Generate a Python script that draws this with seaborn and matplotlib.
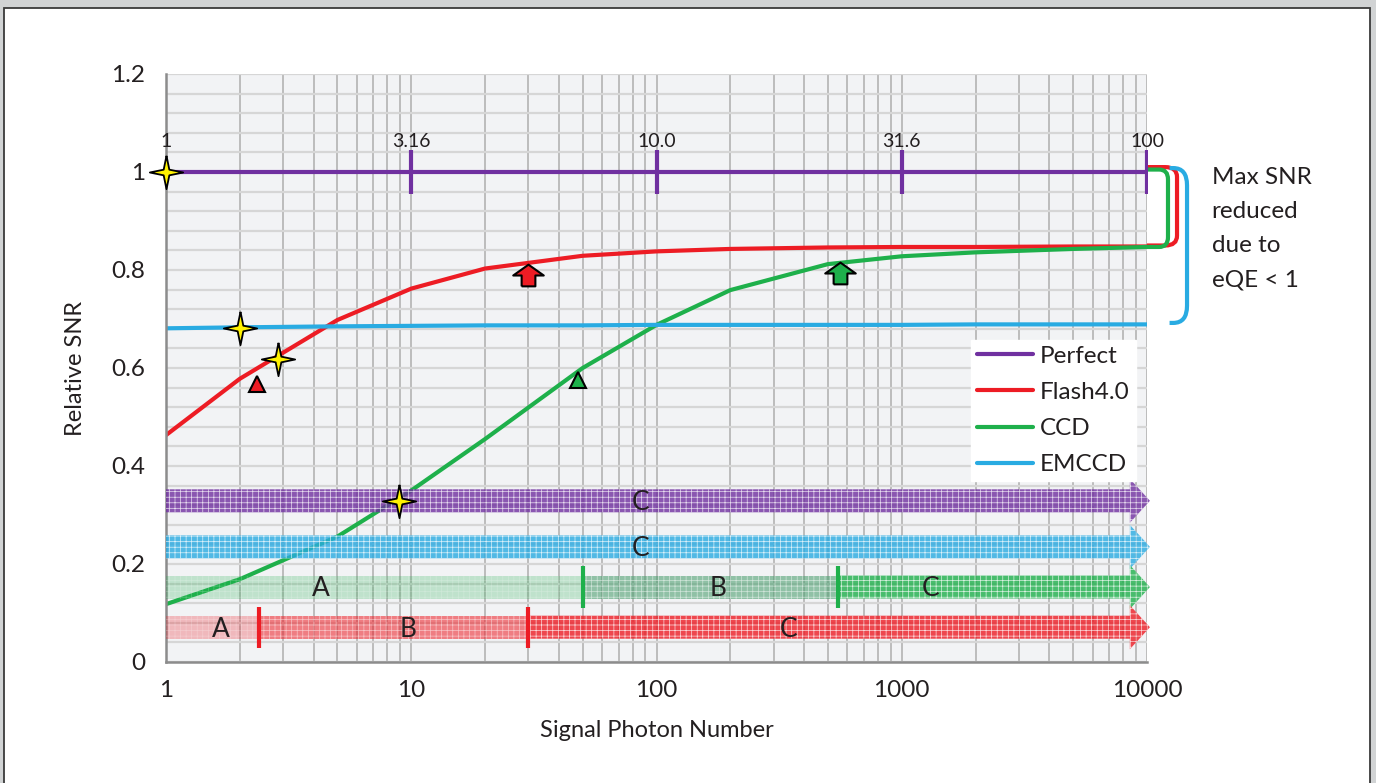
import matplotlib
matplotlib.use("Agg")
import matplotlib.pyplot as plt
import numpy as np
import seaborn as sns
from matplotlib.path import Path
from matplotlib.patches import PathPatch, Rectangle
from matplotlib.transforms import blended_transform_factory
from matplotlib.ticker import FixedLocator, NullFormatter

# ---- data ----
photons = [1, 2, 5, 10, 20, 50, 100, 200, 500, 1000, 2000, 5000, 10000]
perfect = [1.0] * len(photons)
flash = [0.463, 0.578, 0.698, 0.762, 0.803, 0.829, 0.838, 0.843, 0.846, 0.847, 0.847, 0.848, 0.848]
ccd = [0.118, 0.169, 0.256, 0.350, 0.455, 0.600, 0.688, 0.759, 0.812, 0.828, 0.836, 0.843, 0.847]
emccd = [0.681, 0.683, 0.685, 0.686, 0.687, 0.687, 0.688, 0.688, 0.688, 0.688, 0.689, 0.689, 0.689]

snr_tick_x = [10, 100, 1000, 10000]
snr_label_x = [1, 10, 100, 1000, 10000]
snr_labels = ["1", "3.16", "10.0", "31.6", "100"]

star_x = [1, 2, 2.85, 8.9]
star_y = [1.0, 0.682, 0.618, 0.329]
tri_x = [2.36, 48]
tri_y = [0.567, 0.575]
up_x = [30, 560]
up_y = [0.79, 0.793]

# zone arrows: band level, zone boundaries, zone letters
zone_levels = [0.329, 0.235, 0.153, 0.071]
zone_bounds = [[], [], [50, 550], [2.4, 30]]
zone_letters = [["C"], ["C"], ["A", "B", "C"], ["A", "B", "C"]]
zone_letter_x = [[86], [86], [4.3, 178, 1316], [1.68, 9.7, 347]]

purple = "#7030a0"
red = "#ed1c24"
green = "#1eb04b"
cyan = "#29abe2"
txt = "#231f20"

sns.set_style("white")
plt.rcParams['font.family'] = ['Lato', 'DejaVu Sans']
plt.rcParams['hatch.linewidth'] = 0.5

fig = plt.figure(figsize=(13.76, 7.83), dpi=100)
fig.patch.set_facecolor("#d1d3d4")
fig.patches.append(Rectangle((4 / 1376, -0.01), 1366 / 1376, (783 - 8) / 783 + 0.01,
                             transform=fig.transFigure, facecolor="white",
                             edgecolor="#3a3a3a", lw=1.3, zorder=-5))

ax = fig.add_axes([166 / 1376, 121 / 783, 981 / 1376, 588 / 783])
ax.set_facecolor("#f2f3f5")

# curves
sns.lineplot(x=photons, y=perfect, ax=ax, color=purple, lw=3, label="Perfect", zorder=2)
sns.lineplot(x=photons, y=flash, ax=ax, color=red, lw=3, label="Flash4.0", zorder=2)
sns.lineplot(x=photons, y=ccd, ax=ax, color=green, lw=3, label="CCD", zorder=2)
sns.lineplot(x=photons, y=emccd, ax=ax, color=cyan, lw=3, label="EMCCD", zorder=2)

ax.set_xscale("log")
ax.set_xlim(1, 10000)
ax.set_ylim(0, 1.2)

# sqrt(N) ticks on the perfect line
ax.plot(snr_tick_x, [1.0] * len(snr_tick_x), ls="none", marker="|", ms=32, mew=3,
        color=purple, zorder=3, label="_nolegend_")
for x, s in zip(snr_label_x, snr_labels):
    ax.text(x, 1.062, s, ha="center", va="center", fontsize=14, color=txt, zorder=6)

# zone arrows
head_base = 10 ** 3.93
tip = 10 ** 4.012
half, head_half = 0.0235, 0.045
for i, (lev, col) in enumerate(zip(zone_levels, [purple, cyan, green, red])):
    edges = [1] + zone_bounds[i] + [None]
    nseg = len(zone_letters[i])
    if nseg == 1:
        styles = [(col, 0.8)]
    elif col == green:
        styles = [(green, 0.24), ("#4a9e6e", 0.58), (green, 0.8)]
    else:
        styles = [(red, 0.27), (red, 0.55), (red, 0.8)]
    for k in range(nseg):
        x0 = edges[k]
        fc, al = styles[k]
        if k == nseg - 1:
            xs = [x0, head_base, head_base, tip, head_base, head_base, x0]
            ys = [lev - half, lev - half, lev - head_half, lev, lev + head_half, lev + half, lev + half]
        else:
            x1 = edges[k + 1]
            xs = [x0, x1, x1, x0]
            ys = [lev - half, lev - half, lev + half, lev + half]
        ax.fill(xs, ys, facecolor=fc, alpha=al, edgecolor=(1, 1, 1, 0.22), hatch="+++",
                lw=0, zorder=3, clip_on=False)
        ax.text(zone_letter_x[i][k], lev - 0.004, zone_letters[i][k], ha="center", va="center",
                fontsize=19, color=txt, zorder=4)
    for b in zone_bounds[i]:
        ax.plot([b, b], [lev - 0.042, lev + 0.042], color=col, lw=3, zorder=4,
                solid_capstyle="butt", label="_nolegend_")

# markers
star = Path([(0, 1), (0.17, 0.17), (1, 0), (0.17, -0.17), (0, -1), (-0.17, -0.17),
             (-1, 0), (-0.17, 0.17), (0, 1)])
ax.plot(star_x, star_y, ls="none", marker=star, ms=24, mfc="#fff200", mec="black",
        mew=1.3, zorder=6, clip_on=False, label="_nolegend_")
ax.plot(tri_x[:1], tri_y[:1], ls="none", marker="^", ms=12, mfc=red, mec="black",
        mew=1.5, zorder=6, label="_nolegend_")
ax.plot(tri_x[1:], tri_y[1:], ls="none", marker="^", ms=12, mfc=green, mec="black",
        mew=1.5, zorder=6, label="_nolegend_")
up = Path([(-0.45, -0.71), (0.45, -0.71), (0.45, 0), (1, 0), (0, 0.71), (-1, 0),
           (-0.45, 0), (-0.45, -0.71)])
ax.plot(up_x[:1], up_y[:1], ls="none", marker=up, ms=22, mfc=red, mec="black",
        mew=1.5, zorder=6, label="_nolegend_")
ax.plot(up_x[1:], up_y[1:], ls="none", marker=up, ms=22, mfc=green, mec="black",
        mew=1.5, zorder=6, label="_nolegend_")

# brackets on the right
trans = blended_transform_factory(ax.transAxes, ax.transData)


def bracket(x0, x1, y_bot, y_top, color, rx, ry):
    verts = [(x0, y_bot), (x1 - rx, y_bot), (x1, y_bot), (x1, y_bot + ry),
             (x1, y_top - ry), (x1, y_top), (x1 - rx, y_top), (x0, y_top)]
    codes = [Path.MOVETO, Path.LINETO, Path.CURVE3, Path.CURVE3,
             Path.LINETO, Path.CURVE3, Path.CURVE3, Path.LINETO]
    ax.add_patch(PathPatch(Path(verts, codes), fill=False, ec=color, lw=3,
                           transform=trans, clip_on=False, zorder=2))


bracket(1.0, 1.0306, flash[-1] + 0.002, 1.01, red, 0.012, 0.02)
bracket(1.0, 1.0214, ccd[-1], 1.005, green, 0.009, 0.02)
bracket(1.023, 1.0408, emccd[-1] + 0.003, 1.008, cyan, 0.014, 0.035)
ax.text(1.066, 0.884, "Max SNR\nreduced\ndue to\neQE < 1", transform=trans,
        ha="left", va="center", fontsize=17.5, color=txt, linespacing=1.78)

# axes styling
ax.xaxis.set_major_locator(FixedLocator([1, 10, 100, 1000, 10000]))
ax.set_xticklabels(["1", "10", "100", "1000", "10000"])
ax.xaxis.set_minor_locator(FixedLocator([m * 10 ** e for e in range(4) for m in range(2, 10)]))
ax.xaxis.set_minor_formatter(NullFormatter())
ax.set_yticks([0, 0.2, 0.4, 0.6, 0.8, 1.0, 1.2])
ax.set_yticklabels(["0", "0.2", "0.4", "0.6", "0.8", "1", "1.2"])
ax.yaxis.set_minor_locator(FixedLocator(np.arange(0.04, 1.2, 0.04)))

ax.grid(which="both", axis="x", color="#b8b8b8", lw=1.3, zorder=0)
ax.grid(which="both", axis="y", color="#d6d6d6", lw=1.6, zorder=0)
ax.set_axisbelow(True)
for s in ["top", "right"]:
    ax.spines[s].set_visible(False)
for s in ["left", "bottom"]:
    ax.spines[s].set_color("#8c8c8c")
    ax.spines[s].set_linewidth(1.8)
ax.tick_params(which="major", direction="out", length=6, color="#8c8c8c", width=1.3,
               labelsize=17.5, labelcolor=txt)
ax.tick_params(axis="x", which="major", pad=7)
ax.tick_params(axis="y", which="major", pad=9)
ax.tick_params(which="minor", length=0)

ax.set_xlabel("Signal Photon Number", fontsize=17, color=txt)
ax.set_ylabel("Relative SNR", fontsize=17, color=txt)
ax.xaxis.set_label_coords(0.5, -0.098)
ax.yaxis.set_label_coords(-0.082, 0.5)

leg = ax.legend(loc="upper right", bbox_to_anchor=(0.9888, 0.548), borderaxespad=0,
                frameon=True, fancybox=False, facecolor="white", edgecolor="white",
                framealpha=1, fontsize=17.5, handlelength=2.3, handletextpad=0.3,
                labelspacing=0.62, borderpad=0.25)
for t in leg.get_texts():
    t.set_color(txt)
leg.set_zorder(7)

fig.savefig("out.png", dpi=100, facecolor=fig.get_facecolor())
